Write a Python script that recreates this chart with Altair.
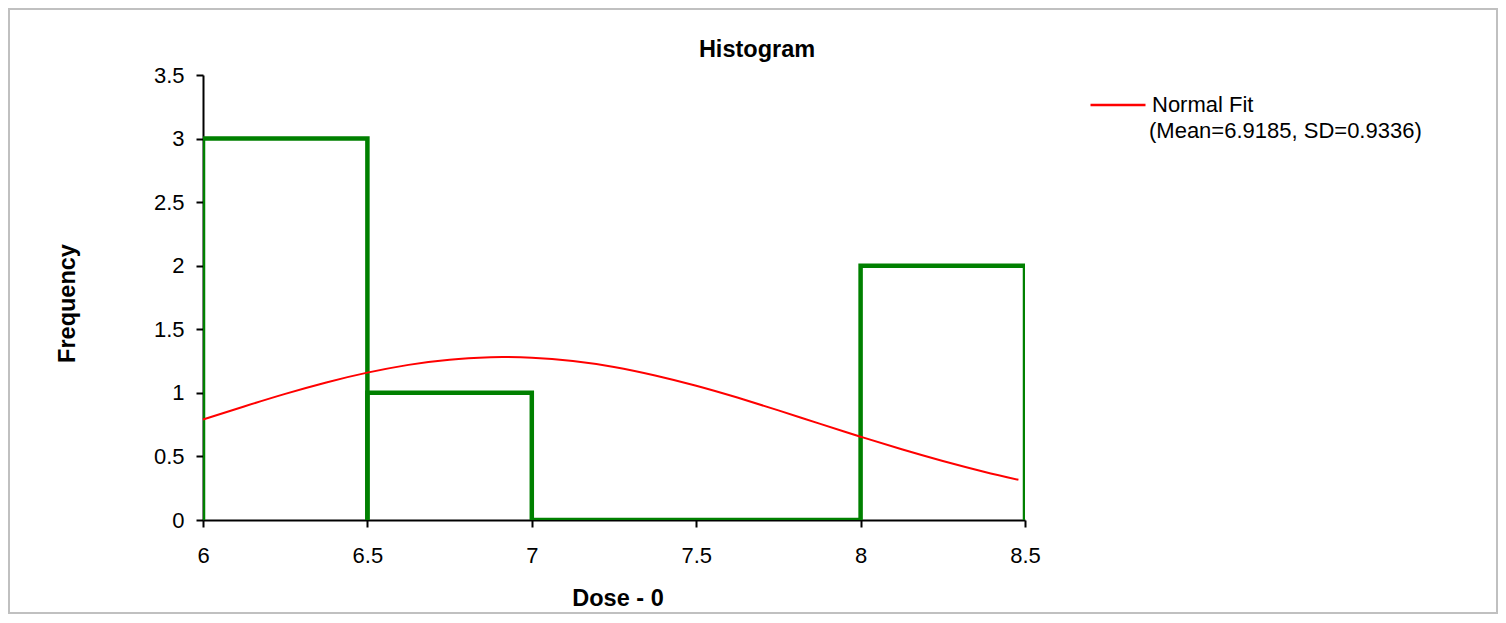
import altair as alt
import pandas as pd

# ---- data ----
bin_lo = [6.0, 6.5, 7.0, 8.0]
bin_hi = [6.5, 7.0, 8.0, 8.5]
frequency = [3, 1, 0, 2]

fit_x = [6.0, 6.125, 6.25, 6.375, 6.5, 6.625, 6.75, 6.875, 6.92, 7.0, 7.125, 7.25,
         7.375, 7.5, 7.625, 7.75, 7.875, 8.0, 8.125, 8.25, 8.375, 8.48]
fit_y = [0.790, 0.893, 0.992, 1.082, 1.159, 1.220, 1.261, 1.280, 1.282, 1.277, 1.251, 1.204,
         1.137, 1.056, 0.963, 0.862, 0.758, 0.655, 0.556, 0.464, 0.380, 0.316]

x_ticks = [6, 6.5, 7, 7.5, 8, 8.5]
y_ticks = [0, 0.5, 1, 1.5, 2, 2.5, 3, 3.5]

series_name = "Normal Fit"
legend_line2 = "(Mean=6.9185, SD=0.9336)"
chart_title = "Histogram"
x_title = "Dose - 0"
y_title = "Frequency"

FONT = "Liberation Sans"

# histogram outline: left, top and right side of each bin
rows = []
for i, (lo, hi, f) in enumerate(zip(bin_lo, bin_hi, frequency)):
    for k, (xx, yy) in enumerate([(lo, 0), (lo, f), (hi, f), (hi, 0)]):
        rows.append({"bin": i, "order": k, "x": xx, "y": yy})
hist_df = pd.DataFrame(rows)
fit_df = pd.DataFrame({"x": fit_x, "y": fit_y, "series": series_name})

x_scale = alt.Scale(domain=[6, 8.5], nice=False, zero=False)
y_scale = alt.Scale(domain=[0, 3.5], nice=False, zero=True)

x_axis = alt.Axis(
    values=x_ticks, format="~g", grid=False, domainColor="black", domainWidth=2,
    tickColor="black", tickWidth=2, tickSize=7, labelPadding=18, labelFlush=False,
    labelFont=FONT, labelFontSize=22, labelColor="black",
    title=x_title, titleFont=FONT, titleFontSize=23.5, titleFontWeight="bold",
    titleColor="black", titleX=414.5, titleY=85, titleBaseline="alphabetic",
    titleAlign="center",
)
y_axis = alt.Axis(
    values=y_ticks, format="~g", grid=False, domainColor="black", domainWidth=2,
    tickColor="black", tickWidth=2, tickSize=7, labelPadding=12, labelFlush=False,
    labelFont=FONT, labelFontSize=22, labelColor="black",
    title=y_title, titleFont=FONT, titleFontSize=23.5, titleFontWeight="bold",
    titleColor="black", titleX=-129, titleY=228, titleBaseline="alphabetic",
    titleAlign="center", titleAngle=270,
)

border = alt.Chart(alt.Data(values=[{}])).mark_rect(
    fill="transparent", stroke="#c0c0c0", strokeWidth=2
).encode(
    x=alt.value(-194), x2=alt.value(1294), y=alt.value(-66), y2=alt.value(538)
)

hist = alt.Chart(hist_df).mark_line(
    color="#008000", strokeWidth=4.5, clip=True, strokeJoin="miter", strokeCap="butt"
).encode(
    x=alt.X("x:Q", scale=x_scale, axis=x_axis),
    y=alt.Y("y:Q", scale=y_scale, axis=y_axis),
    detail="bin:N",
    order="order:Q",
)

fit = alt.Chart(fit_df).mark_line(strokeWidth=2, interpolate="natural").encode(
    x=alt.X("x:Q", scale=x_scale),
    y=alt.Y("y:Q", scale=y_scale),
    color=alt.Color(
        "series:N",
        scale=alt.Scale(domain=[series_name], range=["#ff0000"]),
        legend=alt.Legend(
            title=None, orient="none", legendX=886, legendY=1, padding=0,
            symbolType="stroke", symbolSize=3025, symbolStrokeWidth=2.5,
            labelFont=FONT, labelFontSize=22, labelColor="black", labelOffset=5,
        ),
    ),
)

title_text = alt.Chart(alt.Data(values=[{"t": chart_title}])).mark_text(
    font=FONT, fontSize=23.5, fontWeight="bold", color="black",
    align="center", baseline="alphabetic"
).encode(x=alt.value(554), y=alt.value(-18.5), text="t:N")

legend_text = alt.Chart(alt.Data(values=[{"t": legend_line2}])).mark_text(
    font=FONT, fontSize=22, color="black", align="left", baseline="alphabetic"
).encode(x=alt.value(946), y=alt.value(63), text="t:N")

chart = alt.layer(border, hist, fit, title_text, legend_text).properties(
    width=822, height=445,
    autosize=alt.AutoSizeParams(type="none"),
    padding={"left": 195, "top": 67, "right": 473, "bottom": 95},
    background="white",
).configure_view(stroke="transparent")

chart.save("out.html", embed_options={"renderer": "svg", "actions": False})
